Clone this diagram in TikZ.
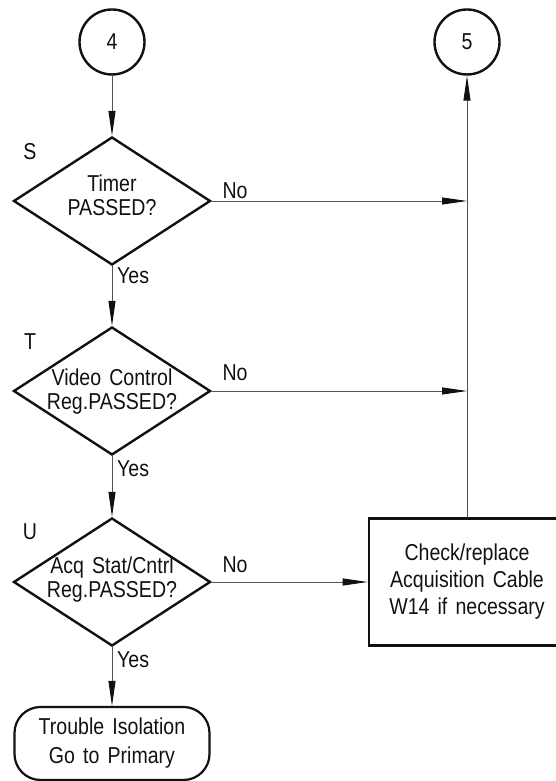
\documentclass[tikz,border=0pt]{standalone}
\usepackage{fontspec}
\setmainfont{Liberation Sans}[FakeStretch=0.85,WordSpace=1.5]
\usepackage{tikz}
\usetikzlibrary{
arrows.meta,
positioning,
calc,
shapes.geometric
}
\definecolor{FlowBlack}{HTML}{111111}
\definecolor{LineGray}{HTML}{555555}

\begin{document}
\begin{tikzpicture}[x=1pt,y=1pt,>={Triangle[length=25pt,width=7pt,color=FlowBlack]},
    every node/.style={font=\fontsize{23}{26}\selectfont, text=FlowBlack},
    connector/.style={draw=LineGray, line width=0.9pt},
    decision/.style={diamond, draw=FlowBlack, line width=2.4pt, minimum width=197pt, minimum height=128pt, inner sep=0pt},
    pagecircle/.style={circle, draw=FlowBlack, line width=2.4pt, minimum size=65pt, inner sep=0pt},
    terminal/.style={rectangle, draw=FlowBlack, line width=2.2pt, rounded corners=26pt, minimum width=195pt, minimum height=73pt, align=center, font=\fontsize{23}{29}\selectfont},
    actionbox/.style={rectangle, draw=FlowBlack, line width=2.6pt, minimum width=196pt, minimum height=127pt, align=center, font=\fontsize{23}{27}\selectfont},
    qtext/.style={align=center, inner sep=0pt, font=\fontsize{23}{24}\selectfont}]
        \clip (0,0) rectangle (556,781);

        \node[pagecircle] (c4) at (112,739) {4};
        \node[pagecircle] (c5) at (467,739) {5};

        \node[decision] (s) at (112,580) {};
        \node[decision] (t) at (112,390) {};
        \node[decision] (u) at (112,199) {};
        \node[qtext] (stxt) at (112,586) {Timer\\PASSED?};
        \node[qtext] (ttxt) at (112,389) {Video Control\\Reg.PASSED?};
        \node[qtext] (utxt) at (112,201) {Acq Stat/Cntrl\\Reg.PASSED?};

        \node[terminal] (trouble) at (112,37.5) {Trouble Isolation\\Go to Primary};
        \node[actionbox] (check) at (467,199) {Check/replace\\Acquisition Cable\\W14 if necessary};

        \foreach \nm/\lab/\y in {sl/S/629,tl/T/439,ul/U/249} {
            \node (\nm) at (30,\y) {\lab};
        }
        \foreach \nm/\y in {sno/590,tno/408,uno/216} {
            \node (\nm) at (235,\y) {No};
        }
        \foreach \nm/\y in {syes/505,tyes/312,uyes/121} {
            \node[anchor=west, inner sep=0pt] (\nm) at (117,\y) {Yes};
        }

        \draw[connector,->] (c4) -- (s);
        \draw[connector,->] (s) -- (t);
        \draw[connector,->] (t) -- (u);
        \draw[connector,->] (u) -- (trouble);
        \draw[connector,->] (check) -- (c5);
        \draw[connector,->] (s.east) -- (s.east -| check.north);
        \draw[connector,->] (t.east) -- (t.east -| check.north);
        \draw[connector,->] (u.east) -- (u.east -| check.west);
    \end{tikzpicture}
\end{document}
